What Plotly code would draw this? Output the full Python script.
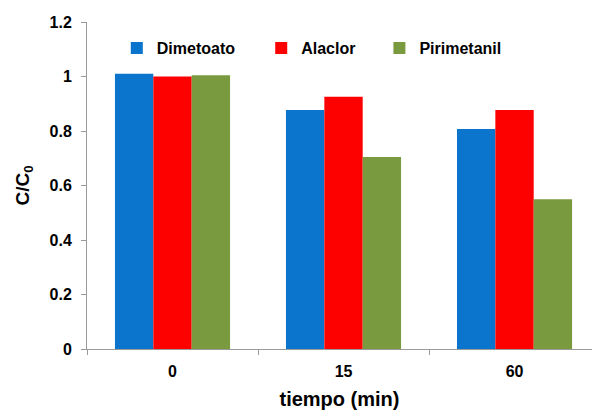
import plotly.graph_objects as go

# Sampling times and relative concentration C/C0 per pesticide
tiempos = ["0", "15", "60"]
dimetoato = [1.01, 0.877, 0.807]
alaclor = [1.0, 0.926, 0.877]
pirimetanil = [1.005, 0.705, 0.55]
y_ticks = [0, 0.2, 0.4, 0.6, 0.8, 1, 1.2]

series = [
    ("Dimetoato", dimetoato, "#0b74cc", "legend", 0.059),
    ("Alaclor", alaclor, "#fd0000", "legend2", 0.345),
    ("Pirimetanil", pirimetanil, "#7a9a3f", "legend3", 0.579),
]

font_family = "Liberation Sans, Arial, sans-serif"

fig = go.Figure()
for name, vals, color, leg, _ in series:
    fig.add_trace(go.Bar(
        x=tiempos, y=vals, name=name, legend=leg,
        marker=dict(color=color, line=dict(width=0)),
    ))

legend_common = dict(
    orientation="h", yanchor="middle", y=0.92, xanchor="left",
    bgcolor="rgba(0,0,0,0)", borderwidth=0,
    font=dict(family=font_family, size=16, color="#000", weight="bold"),
    itemwidth=30,
)
layout_legends = {}
for name, _, _, leg, lx in series:
    layout_legends[leg] = dict(legend_common, x=lx)

fig.update_layout(
    width=592, height=412,
    margin=dict(l=87, r=0, t=22, b=63),
    paper_bgcolor="white", plot_bgcolor="white",
    barmode="group", bargap=0.327, bargroupgap=0,
    showlegend=True,
    font=dict(family=font_family, size=16, color="#000"),
    **layout_legends,
)
# the category axis runs on past the right edge of the figure
fig.update_xaxes(
    range=[-0.5, 2.453],
    showline=True, linecolor="#9a9a9a", linewidth=1,
    ticks="outside", tickcolor="#9a9a9a", ticklen=5, tickson="boundaries",
    ticklabelstandoff=8,
    tickfont=dict(family=font_family, size=16, weight="bold"),
    title=dict(text="tiempo (min)", standoff=12,
               font=dict(family=font_family, size=20, weight="bold")),
    showgrid=False,
)
fig.update_yaxes(
    range=[0, 1.2], tickvals=y_ticks,
    ticktext=[f"{v:g}" for v in y_ticks],
    showline=True, linecolor="#9a9a9a", linewidth=1,
    ticks="outside", tickcolor="#9a9a9a", ticklen=5,
    ticklabelstandoff=6,
    tickfont=dict(family=font_family, size=16, weight="bold"),
    title=dict(text="C/C<sub>0</sub>", standoff=14,
               font=dict(family=font_family, size=19, weight="bold")),
    showgrid=False, zeroline=False,
)

fig.write_html("out.html")
